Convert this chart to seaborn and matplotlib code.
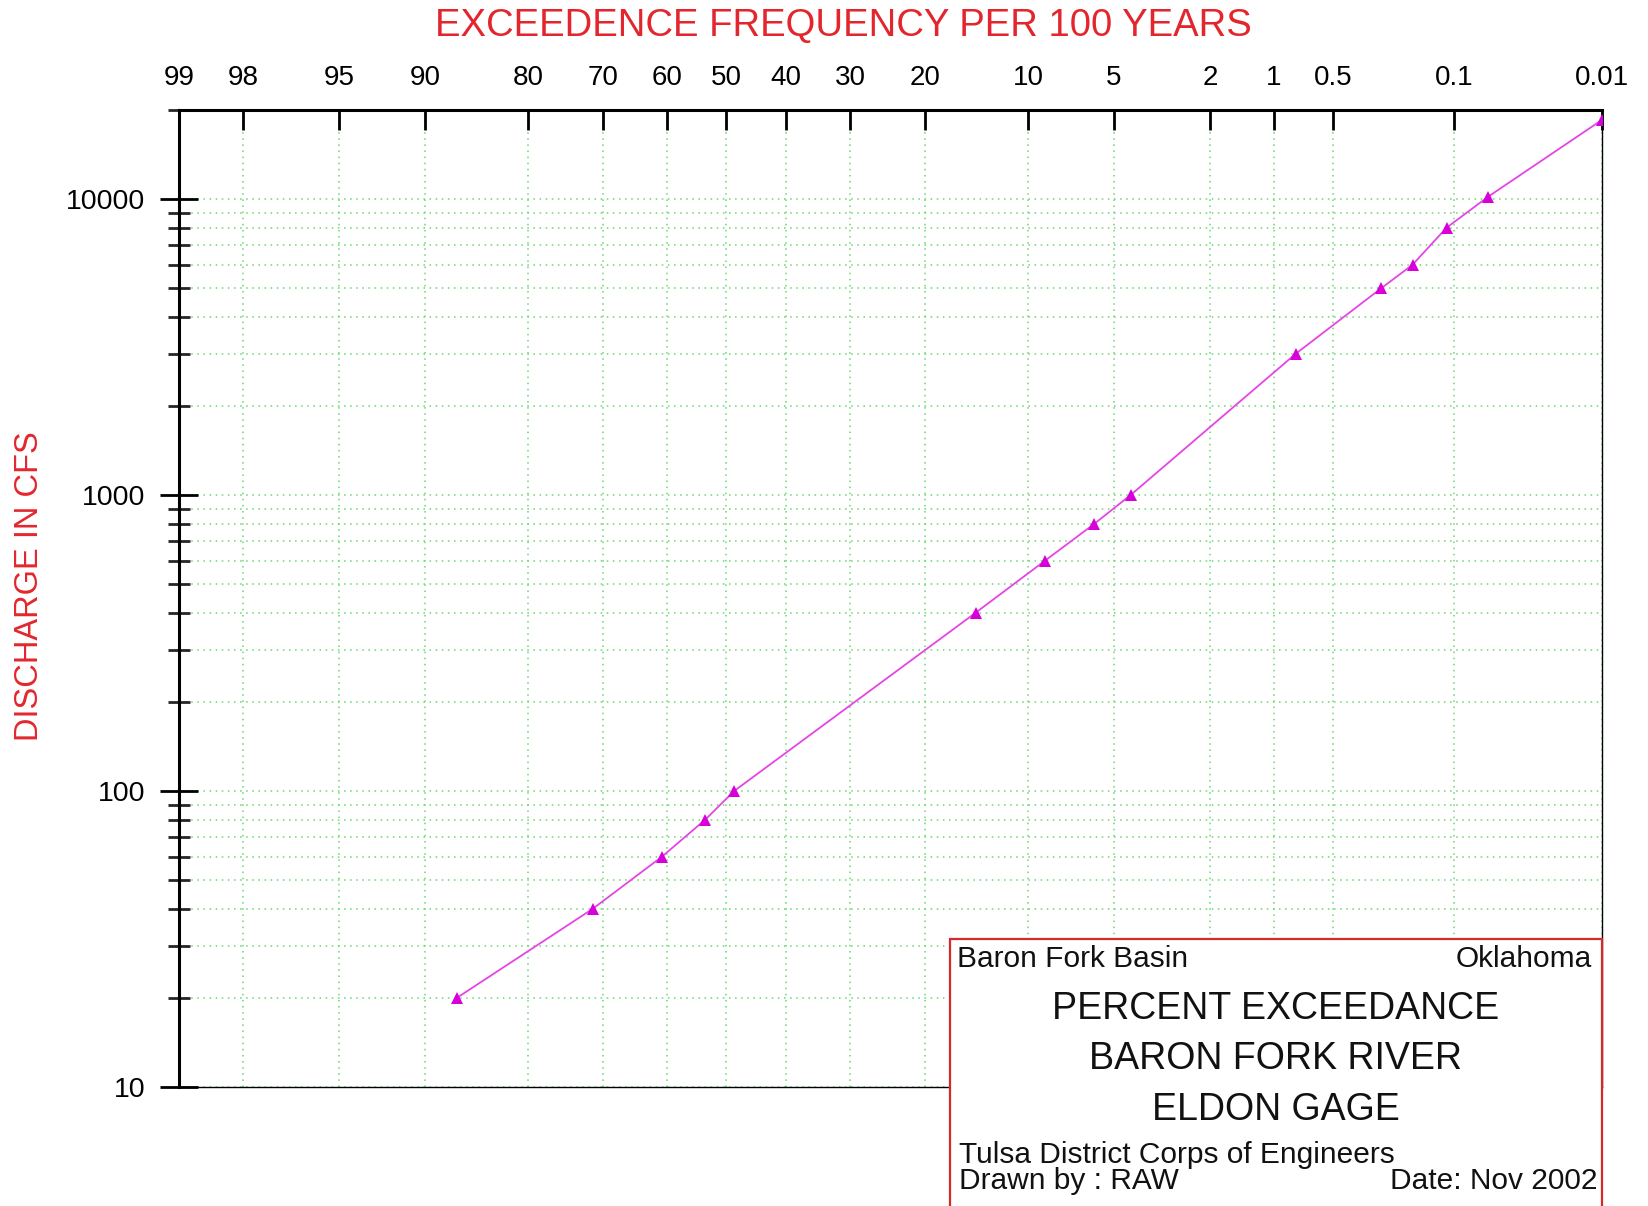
import numpy as np
import matplotlib
matplotlib.use("Agg")
import matplotlib.pyplot as plt
import matplotlib.ticker as mticker
from matplotlib.patches import Rectangle
from statistics import NormalDist
import seaborn as sns

# percent exceedance (per 100 years) and discharge in cfs
exceedance = [87.4, 71.5, 60.8, 53.6, 48.7, 14.5, 8.8, 5.9, 4.3, 0.78, 0.27, 0.178, 0.111, 0.0604, 0.01]
discharge = [20, 40, 60, 80, 100, 400, 600, 800, 1000, 3000, 5000, 6000, 8000, 10200, 18500]

x_ticks = [99, 98, 95, 90, 80, 70, 60, 50, 40, 30, 20, 10, 5, 2, 1, 0.5, 0.1, 0.01]
x_tick_labels = ["99", "98", "95", "90", "80", "70", "60", "50", "40", "30", "20",
                 "10", "5", "2", "1", "0.5", "0.1", "0.01"]
y_ticks = [10, 100, 1000, 10000]
y_tick_labels = ["10", "100", "1000", "10000"]

_nd = NormalDist()


def prob_fwd(p):
    p = np.clip(np.asarray(p, dtype=float), 1e-7, 100 - 1e-7)
    return np.vectorize(_nd.inv_cdf, otypes=[float])(p / 100.0)


def prob_inv(z):
    z = np.asarray(z, dtype=float)
    return np.vectorize(_nd.cdf, otypes=[float])(z) * 100.0


sns.set_style("white")
plt.rcParams['font.family'] = ['Liberation Sans', 'DejaVu Sans']

fig = plt.figure(figsize=(16.49, 12.06), dpi=100)
ax = fig.add_axes([0.1085, 0.0987, 0.8629, 0.8101])

ax.set_xscale("function", functions=(prob_fwd, prob_inv))
ax.set_yscale("log")

sns.lineplot(x=exceedance, y=discharge, ax=ax, color="#e545e5", linewidth=1.3,
             marker="^", markersize=8, markeredgewidth=0, markerfacecolor="#d800d8",
             sort=False, zorder=5)

ax.set_xlim(99, 0.01)
ax.set_ylim(10, 20000)

ax.xaxis.set_major_locator(mticker.FixedLocator(x_ticks))
ax.xaxis.set_major_formatter(mticker.FixedFormatter(x_tick_labels))
ax.xaxis.set_minor_locator(mticker.NullLocator())
ax.xaxis.tick_top()
ax.tick_params(axis="x", which="major", direction="in", length=14.5, width=2,
               labelsize=20, pad=14, colors="black", top=True, bottom=False)

ax.yaxis.set_major_locator(mticker.FixedLocator(y_ticks))
ax.yaxis.set_major_formatter(mticker.FixedFormatter(y_tick_labels))
ax.yaxis.set_minor_locator(mticker.LogLocator(base=10, subs=np.arange(2, 10)))
ax.yaxis.set_minor_formatter(mticker.NullFormatter())
ax.tick_params(axis="y", which="major", direction="inout", length=28, width=2,
               labelsize=20.5, pad=10, colors="black", left=True, right=False)
ax.tick_params(axis="y", which="minor", direction="inout", length=16.5, width=2,
               left=True, right=False)

grid_style = dict(color="#6cd66c", linestyle=(0, (1, 3)), linewidth=1.1)
ax.grid(True, axis="x", which="major", **grid_style)
ax.grid(True, axis="y", which="both", **grid_style)

for side in ["top", "left"]:
    ax.spines[side].set_linewidth(2.2)
for side in ["bottom", "right"]:
    ax.spines[side].set_linewidth(1.0)
for s in ax.spines.values():
    s.set_color("black")
    s.set_visible(True)

ax.set_xlabel("")
ax.set_ylabel("")

red = "#e3262d"
fig.text(0.5112, 0.9784, "EXCEEDENCE FREQUENCY PER 100 YEARS", color=red,
         fontsize=27.5, ha="center", va="center")
fig.text(0.0179, 0.5141, "DISCHARGE IN CFS", color=red, fontsize=23.5,
         rotation=90, ha="center", va="center")

# title block in the lower right corner
box = Rectangle((0.5761, -0.02), 0.3951, 0.2414, transform=fig.transFigure,
                facecolor="white", edgecolor="#d42a2a", linewidth=1.6, zorder=10)
fig.add_artist(box)

small = dict(fontsize=21.5, color="#111111", va="center", zorder=11)
big = dict(fontsize=27, color="#111111", ha="center", va="center", zorder=11)
fig.text(0.5804, 0.2048, "Baron Fork Basin", ha="left", **small)
fig.text(0.9654, 0.2048, "Oklahoma", ha="right", **small)
fig.text(0.7736, 0.1633, "PERCENT EXCEEDANCE", **big)
fig.text(0.7736, 0.1219, "BARON FORK RIVER", **big)
fig.text(0.7736, 0.0796, "ELDON GAGE", **big)
fig.text(0.5816, 0.0423, "Tulsa District Corps of Engineers", ha="left", **small)
fig.text(0.5816, 0.0207, "Drawn by : RAW", ha="left", **small)
fig.text(0.9690, 0.0207, "Date: Nov 2002", ha="right", **small)

fig.savefig("out.png", dpi=100)
